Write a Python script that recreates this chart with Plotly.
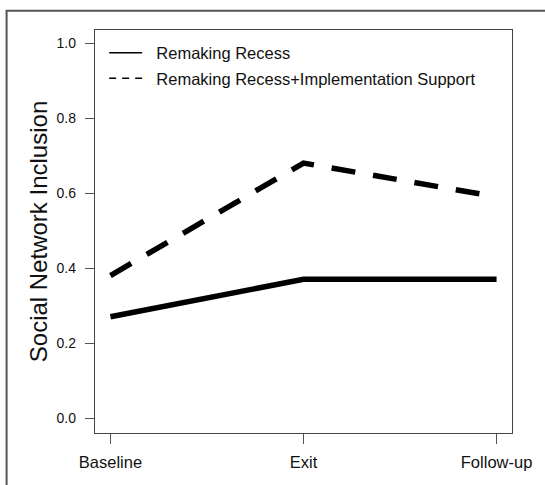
import plotly.graph_objects as go

categories = ["Baseline", "Exit", "Follow-up"]
rr_values = [0.27, 0.37, 0.37]
rr_is_values = [0.38, 0.68, 0.59]
series_names = ["Remaking Recess", "Remaking Recess+Implementation Support"]
y_ticks = [0.0, 0.2, 0.4, 0.6, 0.8, 1.0]
y_tick_labels = ["0.0", "0.2", "0.4", "0.6", "0.8", "1.0"]

x_pos = [1, 2, 3]
FONT = "Liberation Sans, Arial, Helvetica, sans-serif"

fig = go.Figure()
fig.add_trace(go.Scatter(x=x_pos, y=rr_values, mode="lines", name=series_names[0],
                         line=dict(color="black", width=5.5), showlegend=False))
fig.add_trace(go.Scatter(x=x_pos, y=rr_is_values, mode="lines", name=series_names[1],
                         line=dict(color="black", width=5.5, dash="24px,18px"), showlegend=False))
# legend entries (thin line samples, as in the reference)
fig.add_trace(go.Scatter(x=[None], y=[None], mode="lines", name="\u00a0\u00a0" + series_names[0],
                         line=dict(color="black", width=1.5), legendgroup="a"))
fig.add_trace(go.Scatter(x=[None], y=[None], mode="lines", name="\u00a0\u00a0" + series_names[1],
                         line=dict(color="black", width=1.5, dash="7px,6px"), legendgroup="b"))

fig.update_layout(
    width=545, height=485,
    margin=dict(l=95, r=33, t=30, b=52),
    paper_bgcolor="white", plot_bgcolor="white",
    font=dict(family=FONT, color="#111"),
    showlegend=True,
    legend=dict(x=0.022, y=0.986, xanchor="left", yanchor="top",
                bgcolor="rgba(0,0,0,0)", borderwidth=0,
                font=dict(size=16.5, family=FONT, color="#111"),
                itemwidth=33, tracegroupgap=1),
    xaxis=dict(range=[0.92, 3.08], tickmode="array", tickvals=x_pos, ticktext=categories,
               showgrid=False, zeroline=False, showline=True, mirror=True,
               linecolor="#444", linewidth=1.3, ticks="outside", ticklen=10,
               tickcolor="#555", tickwidth=1.2, tickfont=dict(size=16.5, family=FONT, color="#111"),
               ticklabelstandoff=4),
    yaxis=dict(range=[-0.04, 1.035], tickmode="array", tickvals=y_ticks, ticktext=y_tick_labels,
               showgrid=False, zeroline=False, showline=True, mirror=True,
               linecolor="#444", linewidth=1.3, ticks="outside", ticklen=9,
               tickcolor="#555", tickwidth=1.2, tickfont=dict(size=14, family=FONT, color="#111"),
               ticklabelstandoff=6,
               title=dict(text="Social Network Inclusion", font=dict(size=24, family=FONT, color="#111"),
                          standoff=2)),
    shapes=[dict(type="rect", xref="paper", yref="paper",
                 x0=-0.212, y0=-0.3, x1=1.3, y1=1.048,
                 line=dict(color="#555", width=2), fillcolor="rgba(0,0,0,0)", layer="below")],
)

fig.write_html("out.html", config={"displayModeBar": False},
               post_script="document.body.style.margin='0';")
